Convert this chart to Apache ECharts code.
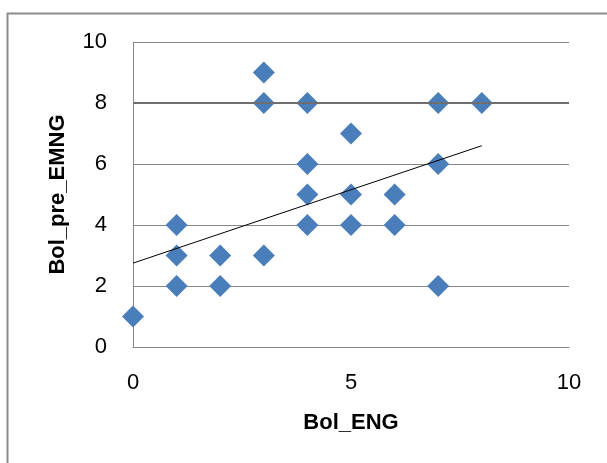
<!DOCTYPE html>
<html>
<head>
<meta charset="utf-8">
<script src="https://cdn.jsdelivr.net/npm/echarts@6/dist/echarts.min.js"></script>
<style>
  html, body { margin: 0; padding: 0; background: #fff; }
  #chart { width: 607px; height: 463px; }
</style>
</head>
<body>
<div id="chart"></div>
<script>
// scatter data
const engScores = [0, 1, 1, 1, 2, 2, 3, 3, 3, 4, 4, 4, 4, 5, 5, 5, 6, 6, 7, 7, 7, 8]
const preEmngScores = [1, 4, 3, 2, 3, 2, 9, 8, 3, 8, 6, 5, 4, 7, 5, 4, 5, 4, 8, 6, 2, 8]
// linear trendline ends, as drawn
const trendX = [0, 8]
const trendY = [2.75, 6.6]

const points = engScores.map((x, i) => [x, preEmngScores[i]])
const trend = trendX.map((x, i) => [x, trendY[i]])

const labelFont = { fontFamily: 'Liberation Sans', fontSize: 22, color: '#000' }
const titleFont = { fontFamily: 'Liberation Sans', fontWeight: 'bold', fontSize: 22, color: '#000' }

const myChart = echarts.init(document.getElementById('chart'))
myChart.setOption({
    animation: false,
    backgroundColor: '#fff',
    graphic: [{
        type: 'rect',
        shape: { x: 7.5, y: 13.5, width: 700, height: 600 },
        style: { fill: 'none', stroke: '#8c8c8c', lineWidth: 2 },
        silent: true
    }],
    grid: { left: 133, right: 38, top: 42, bottom: 116 },
    xAxis: {
        type: 'value',
        min: 0, max: 10, interval: 5,
        name: 'Bol_ENG',
        nameLocation: 'middle',
        nameGap: 65,
        nameTextStyle: titleFont,
        axisLine: { show: true, lineStyle: { color: '#868686', width: 1 } },
        axisTick: { show: false },
        splitLine: { show: false },
        axisLabel: Object.assign({ margin: 25 }, labelFont)
    },
    yAxis: {
        type: 'value',
        min: 0, max: 10, interval: 2,
        name: 'Bol_pre_EMNG',
        nameLocation: 'middle',
        nameGap: 64,
        nameRotate: 90,
        nameTextStyle: titleFont,
        axisLine: { show: true, lineStyle: { color: '#868686', width: 1 } },
        axisTick: { show: false },
        splitLine: { show: true, lineStyle: { color: '#868686', width: 1 } },
        axisLabel: Object.assign({ margin: 26 }, labelFont)
    },
    series: [{
        // the 8 gridline is drawn heavier in the original
        type: 'line',
        data: [],
        z: 1,
        markLine: {
            silent: true,
            symbol: 'none',
            label: { show: false },
            lineStyle: { color: '#6e6e6e', width: 2, type: 'solid' },
            data: [{ yAxis: 8 }]
        }
    }, {
        type: 'scatter',
        data: points,
        symbol: 'diamond',
        symbolSize: 22,
        itemStyle: { color: '#4a7ebb', opacity: 1 },
        z: 3
    }, {
        type: 'line',
        data: trend,
        symbol: 'none',
        lineStyle: { color: '#000', width: 1 },
        z: 4
    }]
})
</script>
</body>
</html>
